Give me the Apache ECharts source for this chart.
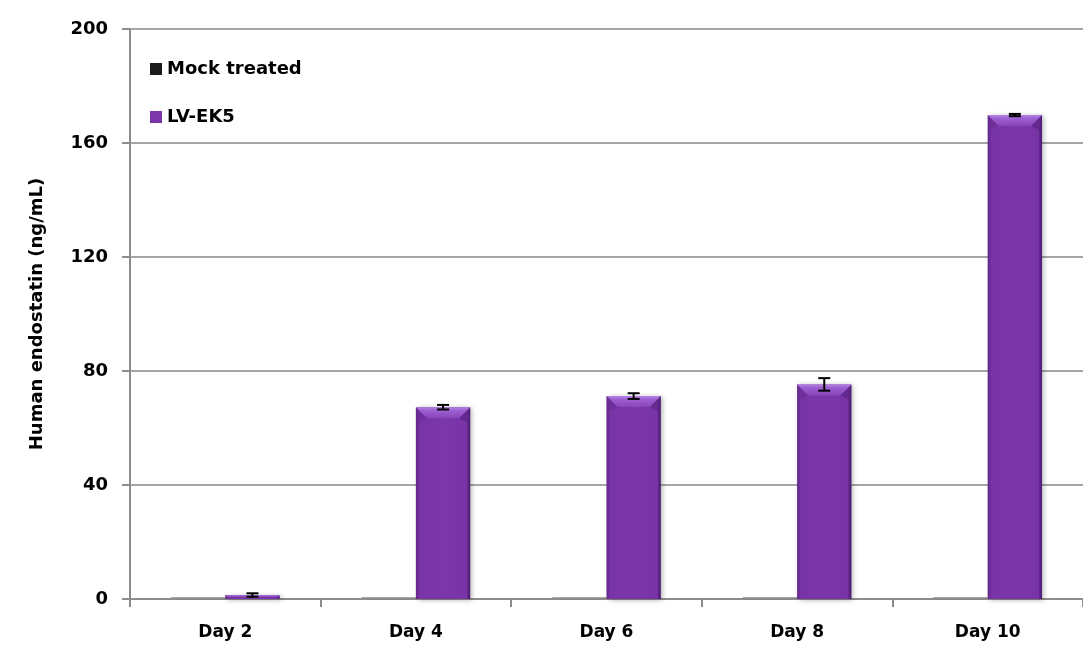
<!DOCTYPE html>
<html><head><meta charset="utf-8">
<script src="https://cdn.jsdelivr.net/npm/echarts@6/dist/echarts.min.js"></script>
<style>html,body{margin:0;padding:0;background:#fff}#chart{width:1083px;height:646px}</style>
</head><body><div id="chart"></div>
<script>
// Human endostatin secretion over time
const categories = ['Day 2', 'Day 4', 'Day 6', 'Day 8', 'Day 10'];
const mockValues = [0.6, 0.6, 0.6, 0.6, 0.6];
const lvValues = [1.4, 67.3, 71.2, 75.3, 169.8];
const lvErrors = [0.6, 0.8, 1.0, 2.2, 0.4];
const yTickValues = [0, 40, 80, 120, 160, 200];

const FONT = '"DejaVu Sans", sans-serif';
const BAR_FRAC = 0.285;   // bar width as share of a category slot

const chart = echarts.init(document.getElementById('chart'), null, { renderer: 'canvas' });

function barRect(api) {
  const i = api.value(0), v = api.value(1);
  const top = api.coord([i, v]);
  const base = api.coord([i, 0]);
  const bw = api.size([1, 0])[0] * BAR_FRAC;
  const x0 = top[0];
  return { x0: x0, x1: x0 + bw, y0: top[1], y1: base[1], bw: bw };
}

const option = {
  animation: false,
  backgroundColor: '#ffffff',
  textStyle: { fontFamily: FONT },
  grid: { left: 130, top: 29, width: 965, height: 570, containLabel: false },
  legend: {
    orient: 'vertical', left: 145, top: 55,
    itemWidth: 12, itemHeight: 12, itemGap: 30,
    icon: 'rect',
    textStyle: { fontSize: 18, fontWeight: 'bold', color: '#000', fontFamily: FONT },
    data: [
      { name: 'Mock treated', itemStyle: { color: '#1a1a1a' } },
      { name: 'LV-EK5', itemStyle: { color: '#7B36AA' } }
    ]
  },
  xAxis: {
    type: 'category', data: categories,
    axisLine: { lineStyle: { color: '#8c8c8c', width: 2 } },
    axisTick: { show: true, length: 8, lineStyle: { color: '#8c8c8c', width: 2 } },
    axisLabel: { fontSize: 17, fontWeight: 'bold', color: '#000', margin: 25, fontFamily: FONT },
    splitLine: { show: false }
  },
  yAxis: {
    type: 'value', min: yTickValues[0], max: yTickValues[yTickValues.length - 1], interval: 40,
    name: 'Human endostatin (ng/mL)', nameLocation: 'middle', nameGap: 84,
    nameTextStyle: { fontSize: 18, fontWeight: 'bold', color: '#000', fontFamily: FONT },
    axisLine: { show: true, lineStyle: { color: '#8c8c8c', width: 2 } },
    axisTick: { show: true, length: 8, lineStyle: { color: '#8c8c8c', width: 2 } },
    axisLabel: { fontSize: 18, fontWeight: 'bold', color: '#000', margin: 22, fontFamily: FONT },
    splitLine: { show: true, lineStyle: { color: '#a6a6a6', width: 2 } }
  },
  series: [
    {
      name: 'Mock treated', type: 'bar', data: mockValues,
      barWidth: (BAR_FRAC * 100) + '%', barGap: '0%',
      itemStyle: { color: '#8a8a8a' }
    },
    {
      name: 'LV-EK5', type: 'bar', data: lvValues,
      barWidth: (BAR_FRAC * 100) + '%', barGap: '0%',
      itemStyle: {
        color: new echarts.graphic.LinearGradient(0, 0, 1, 0, [
          { offset: 0, color: '#6a2b96' },
          { offset: 0.06, color: '#7834a6' },
          { offset: 0.5, color: '#7B36AA' },
          { offset: 0.94, color: '#7834a6' },
          { offset: 1, color: '#5a2382' }
        ]),
        shadowBlur: 5, shadowOffsetX: 2, shadowOffsetY: 1, shadowColor: 'rgba(0,0,0,0.3)'
      }
    },
    {
      // bevel highlight across the top of each LV-EK5 bar
      name: 'LV-EK5 bevel', type: 'custom', silent: true, z: 3,
      data: lvValues.map((v, i) => [i, v]),
      renderItem: function (params, api) {
        const r = barRect(api);
        const h = r.y1 - r.y0;
        const b = Math.min(11, h / 2, r.bw / 2);
        const s = Math.min(3, b);
        return {
          type: 'group',
          children: [
            { type: 'polygon', shape: { points: [[r.x0, r.y0], [r.x1, r.y0], [r.x1 - b, r.y0 + b], [r.x0 + b, r.y0 + b]] },
              style: { fill: new echarts.graphic.LinearGradient(0, 0, 0, 1, [
                { offset: 0, color: '#b583e4' }, { offset: 0.3, color: '#9d60d2' }, { offset: 1, color: '#8744b9' }
              ]) } },
            { type: 'polygon', shape: { points: [[r.x0, r.y0], [r.x0 + b, r.y0 + b], [r.x0 + s, r.y0 + b + 4], [r.x0 + s, r.y1], [r.x0, r.y1]] },
              style: { fill: 'rgba(60,20,90,0.15)' } },
            { type: 'polygon', shape: { points: [[r.x1, r.y0], [r.x1 - b, r.y0 + b], [r.x1 - s, r.y0 + b + 4], [r.x1 - s, r.y1], [r.x1, r.y1]] },
              style: { fill: 'rgba(40,10,70,0.25)' } }
          ]
        };
      }
    },
    {
      name: 'LV-EK5 error', type: 'custom', silent: true, z: 4,
      data: lvValues.map((v, i) => [i, v, lvErrors[i]]),
      renderItem: function (params, api) {
        const i = api.value(0), v = api.value(1), e = api.value(2);
        const bw = api.size([1, 0])[0] * BAR_FRAC;
        const x = api.coord([i, v])[0] + bw / 2;
        const hi = api.coord([i, v + e])[1];
        const lo = api.coord([i, Math.max(0, v - e)])[1];
        const cap = 6;
        const st = { stroke: '#000', lineWidth: 2 };
        return {
          type: 'group',
          children: [
            { type: 'line', shape: { x1: x, y1: hi, x2: x, y2: lo }, style: st },
            { type: 'line', shape: { x1: x - cap, y1: hi, x2: x + cap, y2: hi }, style: st },
            { type: 'line', shape: { x1: x - cap, y1: lo, x2: x + cap, y2: lo }, style: st }
          ]
        };
      }
    }
  ]
};
chart.setOption(option);
</script>
</body></html>
